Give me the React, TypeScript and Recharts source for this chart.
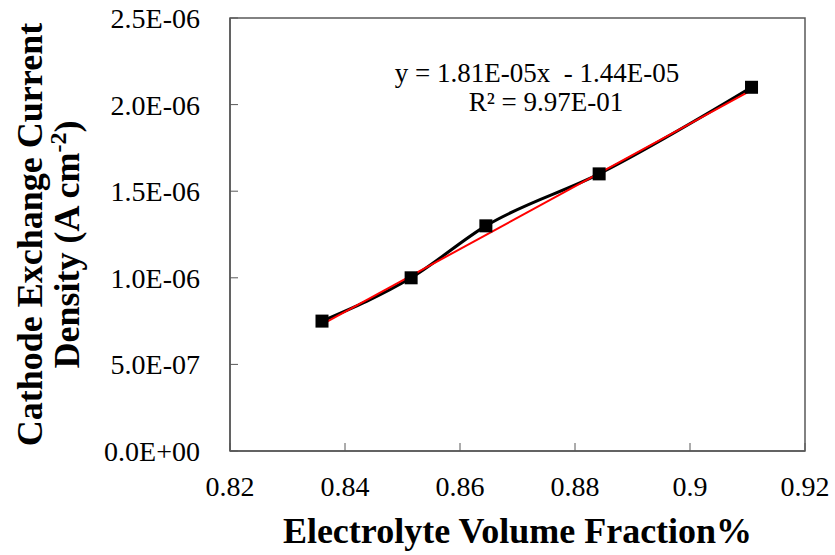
import React from 'react';
import { LineChart, Line, XAxis, YAxis, ReferenceArea, Customized } from 'recharts';

// Measured points: electrolyte volume fraction vs cathode exchange current density
const volumeFractions = [0.836, 0.8515, 0.8645, 0.8842, 0.9107];
const currentDensities = [7.5e-7, 1.0e-6, 1.3e-6, 1.6e-6, 2.1e-6];

// Linear fit reported on the chart
const fitSlope = 1.81e-5;
const fitIntercept = -1.44e-5;
const fitLabel = 'y = 1.81E-05x  - 1.44E-05';
const rSquaredLabel = 'R\u00B2 = 9.97E-01';

const xTicks = [0.82, 0.84, 0.86, 0.88, 0.9, 0.92];
const xTickLabels = ['0.82', '0.84', '0.86', '0.88', '0.9', '0.92'];
const yTicks = [0, 5e-7, 1e-6, 1.5e-6, 2e-6, 2.5e-6];
const yTickLabels = ['0.0E+00', '5.0E-07', '1.0E-06', '1.5E-06', '2.0E-06', '2.5E-06'];

const measured = volumeFractions.map((x, i) => ({ x, y: currentDensities[i] }));
const fitEnds = [volumeFractions[0], volumeFractions[volumeFractions.length - 1]];
const fitLine = fitEnds.map((x) => ({ x, y: fitSlope * x + fitIntercept }));

const SERIF = '"Liberation Serif", "Times New Roman", serif';
const AXIS_GREY = '#595959';

const SquareDot = (props: any) => {
  const { cx, cy } = props;
  if (cx == null || cy == null) return null;
  const s = 13;
  return <rect x={cx - s / 2} y={cy - s / 2} width={s} height={s} fill="#000" />;
};

const YTitle = (props: any) => {
  const vb = props.viewBox || { x: 0, y: 18, width: 230, height: 433 };
  const mid = vb.y + vb.height / 2;
  const cy1 = mid;
  const cy2 = mid + 10;
  const x1 = 42;
  const x2 = 79;
  const style = { fontFamily: SERIF, fontWeight: 'bold' as const, fontSize: 36 };
  return (
    <g fill="#000">
      <text x={x1} y={cy1} style={style} textAnchor="middle" transform={`rotate(-90, ${x1}, ${cy1})`}>
        Cathode Exchange Current
      </text>
      <text x={x2} y={cy2} style={style} textAnchor="middle" transform={`rotate(-90, ${x2}, ${cy2})`}>
        Density (A cm
        <tspan dy={-13} style={{ fontSize: 24 }}>-2</tspan>
        <tspan dy={13}>)</tspan>
      </text>
    </g>
  );
};

const XTitle = (props: any) => {
  const vb = props.viewBox || { x: 230, y: 451, width: 575, height: 104 };
  return (
    <text
      x={vb.x + vb.width / 2}
      y={543}
      textAnchor="middle"
      style={{ fontFamily: SERIF, fontWeight: 'bold', fontSize: 36 }}
      fill="#000"
    >
      Electrolyte Volume Fraction%
    </text>
  );
};

const FitEquation = () => {
  const style = { fontFamily: SERIF, fontSize: 27, whiteSpace: 'pre' as const };
  return (
    <g fill="#000">
      <text x={537} y={82} textAnchor="middle" style={style}>
        {fitLabel}
      </text>
      <text x={546} y={111} textAnchor="middle" style={style}>
        {rSquaredLabel}
      </text>
    </g>
  );
};

const tickStyle = { fill: '#000', fontSize: 28, fontFamily: SERIF, style: { fontFamily: SERIF } };

export default function App() {
  return (
    <div style={{ position: 'absolute', left: 0, top: 0, background: '#fff', fontFamily: SERIF }}>
      <LineChart
        width={835}
        height={555}
        margin={{ top: 18, right: 30, bottom: 0, left: 0 }}
        style={{ fontFamily: SERIF }}
      >
        <XAxis
          type="number"
          dataKey="x"
          domain={[0.82, 0.92]}
          ticks={xTicks}
          tickFormatter={(_v: number, i: number) => xTickLabels[i]}
          height={104}
          allowDataOverflow
          stroke={AXIS_GREY}
          tickSize={-8}
          tickMargin={33}
          tick={tickStyle}
          tickLine={{ stroke: AXIS_GREY }}
          axisLine={{ stroke: AXIS_GREY, strokeWidth: 1.5 }}
          label={<XTitle />}
        />
        <YAxis
          type="number"
          dataKey="y"
          domain={[0, 2.5e-6]}
          ticks={yTicks}
          tickFormatter={(_v: number, i: number) => yTickLabels[i]}
          width={230}
          allowDataOverflow
          stroke={AXIS_GREY}
          tickSize={-8}
          tickMargin={38}
          tick={tickStyle}
          tickLine={{ stroke: AXIS_GREY }}
          axisLine={{ stroke: AXIS_GREY, strokeWidth: 1.5 }}
          label={<YTitle />}
        />
        <ReferenceArea
          x1={0.82}
          x2={0.92}
          y1={0}
          y2={2.5e-6}
          fill="none"
          stroke={AXIS_GREY}
          strokeWidth={1.5}
        />
        <Line
          data={measured}
          dataKey="y"
          type="monotone"
          stroke="#000"
          strokeWidth={3}
          dot={<SquareDot />}
          activeDot={false}
          isAnimationActive={false}
        />
        <Line
          data={fitLine}
          dataKey="y"
          type="linear"
          stroke="#ff0000"
          strokeWidth={2}
          dot={false}
          activeDot={false}
          isAnimationActive={false}
        />
        <Customized component={FitEquation} />
      </LineChart>
    </div>
  );
}
